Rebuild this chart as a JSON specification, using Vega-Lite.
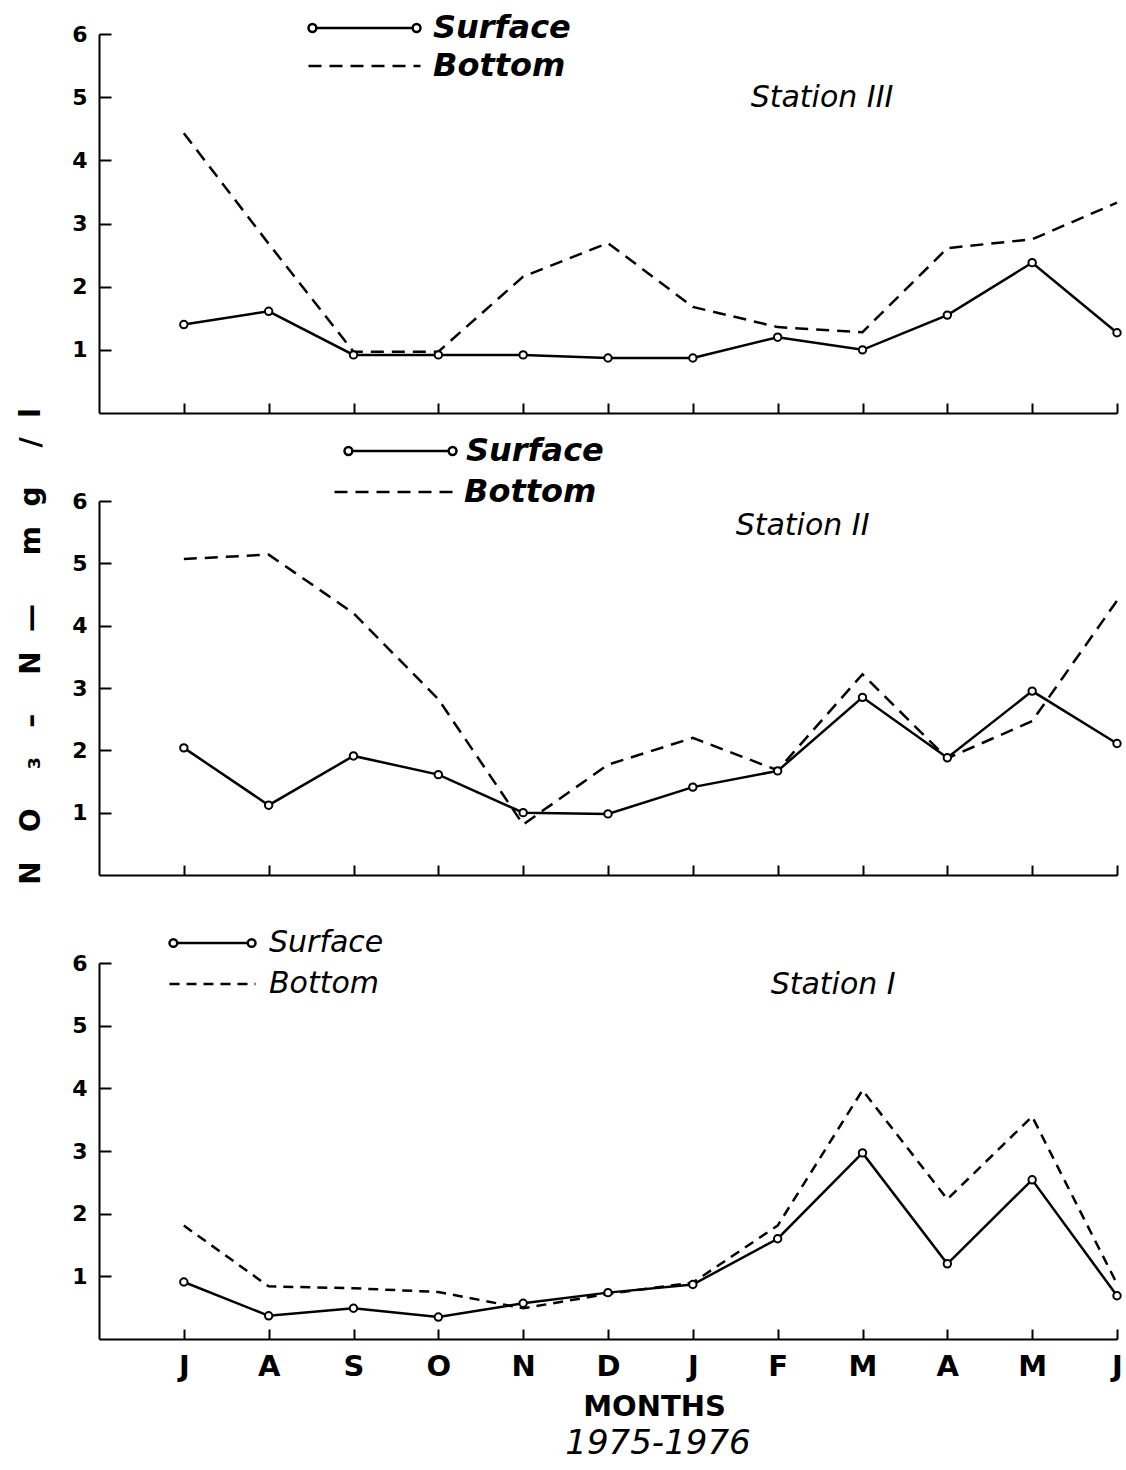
{
  "$schema": "https://vega.github.io/schema/vega-lite/v6.json",
  "background": "white",
  "padding": {"left": 16, "top": 13, "right": 0, "bottom": 0},
  "bounds": "flush",
  "spacing": 88,
  "datasets": {
    "nitrate": [
      {"station": "Station III", "depth": "Surface", "month": "Jul 1975", "no3": 1.40},
      {"station": "Station III", "depth": "Surface", "month": "Aug 1975", "no3": 1.61},
      {"station": "Station III", "depth": "Surface", "month": "Sep 1975", "no3": 0.92},
      {"station": "Station III", "depth": "Surface", "month": "Oct 1975", "no3": 0.92},
      {"station": "Station III", "depth": "Surface", "month": "Nov 1975", "no3": 0.92},
      {"station": "Station III", "depth": "Surface", "month": "Dec 1975", "no3": 0.87},
      {"station": "Station III", "depth": "Surface", "month": "Jan 1976", "no3": 0.87},
      {"station": "Station III", "depth": "Surface", "month": "Feb 1976", "no3": 1.20},
      {"station": "Station III", "depth": "Surface", "month": "Mar 1976", "no3": 1.00},
      {"station": "Station III", "depth": "Surface", "month": "Apr 1976", "no3": 1.55},
      {"station": "Station III", "depth": "Surface", "month": "May 1976", "no3": 2.38},
      {"station": "Station III", "depth": "Surface", "month": "Jun 1976", "no3": 1.27},
      {"station": "Station III", "depth": "Bottom", "month": "Jul 1975", "no3": 4.43},
      {"station": "Station III", "depth": "Bottom", "month": "Aug 1975", "no3": 2.68},
      {"station": "Station III", "depth": "Bottom", "month": "Sep 1975", "no3": 0.97},
      {"station": "Station III", "depth": "Bottom", "month": "Oct 1975", "no3": 0.97},
      {"station": "Station III", "depth": "Bottom", "month": "Nov 1975", "no3": 2.16},
      {"station": "Station III", "depth": "Bottom", "month": "Dec 1975", "no3": 2.69},
      {"station": "Station III", "depth": "Bottom", "month": "Jan 1976", "no3": 1.68},
      {"station": "Station III", "depth": "Bottom", "month": "Feb 1976", "no3": 1.36},
      {"station": "Station III", "depth": "Bottom", "month": "Mar 1976", "no3": 1.28},
      {"station": "Station III", "depth": "Bottom", "month": "Apr 1976", "no3": 2.61},
      {"station": "Station III", "depth": "Bottom", "month": "May 1976", "no3": 2.75},
      {"station": "Station III", "depth": "Bottom", "month": "Jun 1976", "no3": 3.33},
      {"station": "Station II", "depth": "Surface", "month": "Jul 1975", "no3": 2.04},
      {"station": "Station II", "depth": "Surface", "month": "Aug 1975", "no3": 1.12},
      {"station": "Station II", "depth": "Surface", "month": "Sep 1975", "no3": 1.91},
      {"station": "Station II", "depth": "Surface", "month": "Oct 1975", "no3": 1.61},
      {"station": "Station II", "depth": "Surface", "month": "Nov 1975", "no3": 1.00},
      {"station": "Station II", "depth": "Surface", "month": "Dec 1975", "no3": 0.98},
      {"station": "Station II", "depth": "Surface", "month": "Jan 1976", "no3": 1.41},
      {"station": "Station II", "depth": "Surface", "month": "Feb 1976", "no3": 1.67},
      {"station": "Station II", "depth": "Surface", "month": "Mar 1976", "no3": 2.85},
      {"station": "Station II", "depth": "Surface", "month": "Apr 1976", "no3": 1.88},
      {"station": "Station II", "depth": "Surface", "month": "May 1976", "no3": 2.95},
      {"station": "Station II", "depth": "Surface", "month": "Jun 1976", "no3": 2.11},
      {"station": "Station II", "depth": "Bottom", "month": "Jul 1975", "no3": 5.07},
      {"station": "Station II", "depth": "Bottom", "month": "Aug 1975", "no3": 5.14},
      {"station": "Station II", "depth": "Bottom", "month": "Sep 1975", "no3": 4.20},
      {"station": "Station II", "depth": "Bottom", "month": "Oct 1975", "no3": 2.82},
      {"station": "Station II", "depth": "Bottom", "month": "Nov 1975", "no3": 0.81},
      {"station": "Station II", "depth": "Bottom", "month": "Dec 1975", "no3": 1.77},
      {"station": "Station II", "depth": "Bottom", "month": "Jan 1976", "no3": 2.20},
      {"station": "Station II", "depth": "Bottom", "month": "Feb 1976", "no3": 1.68},
      {"station": "Station II", "depth": "Bottom", "month": "Mar 1976", "no3": 3.22},
      {"station": "Station II", "depth": "Bottom", "month": "Apr 1976", "no3": 1.87},
      {"station": "Station II", "depth": "Bottom", "month": "May 1976", "no3": 2.47},
      {"station": "Station II", "depth": "Bottom", "month": "Jun 1976", "no3": 4.40},
      {"station": "Station I", "depth": "Surface", "month": "Jul 1975", "no3": 0.91},
      {"station": "Station I", "depth": "Surface", "month": "Aug 1975", "no3": 0.37},
      {"station": "Station I", "depth": "Surface", "month": "Sep 1975", "no3": 0.49},
      {"station": "Station I", "depth": "Surface", "month": "Oct 1975", "no3": 0.35},
      {"station": "Station I", "depth": "Surface", "month": "Nov 1975", "no3": 0.57},
      {"station": "Station I", "depth": "Surface", "month": "Dec 1975", "no3": 0.74},
      {"station": "Station I", "depth": "Surface", "month": "Jan 1976", "no3": 0.87},
      {"station": "Station I", "depth": "Surface", "month": "Feb 1976", "no3": 1.60},
      {"station": "Station I", "depth": "Surface", "month": "Mar 1976", "no3": 2.97},
      {"station": "Station I", "depth": "Surface", "month": "Apr 1976", "no3": 1.20},
      {"station": "Station I", "depth": "Surface", "month": "May 1976", "no3": 2.54},
      {"station": "Station I", "depth": "Surface", "month": "Jun 1976", "no3": 0.69},
      {"station": "Station I", "depth": "Bottom", "month": "Jul 1975", "no3": 1.81},
      {"station": "Station I", "depth": "Bottom", "month": "Aug 1975", "no3": 0.84},
      {"station": "Station I", "depth": "Bottom", "month": "Sep 1975", "no3": 0.81},
      {"station": "Station I", "depth": "Bottom", "month": "Oct 1975", "no3": 0.75},
      {"station": "Station I", "depth": "Bottom", "month": "Nov 1975", "no3": 0.49},
      {"station": "Station I", "depth": "Bottom", "month": "Dec 1975", "no3": 0.72},
      {"station": "Station I", "depth": "Bottom", "month": "Jan 1976", "no3": 0.90},
      {"station": "Station I", "depth": "Bottom", "month": "Feb 1976", "no3": 1.81},
      {"station": "Station I", "depth": "Bottom", "month": "Mar 1976", "no3": 3.97},
      {"station": "Station I", "depth": "Bottom", "month": "Apr 1976", "no3": 2.23},
      {"station": "Station I", "depth": "Bottom", "month": "May 1976", "no3": 3.55},
      {"station": "Station I", "depth": "Bottom", "month": "Jun 1976", "no3": 0.88}
    ]
  },
  "config": {
    "view": {"stroke": null},
    "axis": {
      "grid": false,
      "domainColor": "black",
      "domainWidth": 2,
      "tickColor": "black",
      "tickWidth": 2,
      "labelColor": "black",
      "titleColor": "black",
      "labelFont": "DejaVu Sans",
      "labelFontWeight": "bold",
      "labelOverlap": false,
      "labelBound": false
    },
    "legend": {"padding": 0, "titlePadding": 0, "symbolStrokeColor": "black", "labelColor": "black", "labelFont": "DejaVu Sans", "labelFontStyle": "italic", "labelLimit": 400, "clipHeight": 30, "direction": "vertical", "orient": "none"},
    "line": {"color": "black", "strokeWidth": 2.5}
  },
  "resolve": {
    "scale": {"strokeDash": "independent", "strokeWidth": "independent"},
    "legend": {"strokeDash": "independent", "strokeWidth": "independent"}
  },
  "vconcat": [
    {
      "width": 1018,
      "height": 379,
      "data": {"name": "nitrate"},
      "transform": [{"filter": "datum.station === 'Station III'"}],
      "layer": [
        {
          "transform": [{"filter": "datum.depth === 'Surface'"}],
          "mark": {"type": "line", "color": "black"},
          "encoding": {
            "x": {"field": "month", "type": "ordinal",
              "sort": ["Jun 1975","Jul 1975","Aug 1975","Sep 1975","Oct 1975","Nov 1975","Dec 1975","Jan 1976","Feb 1976","Mar 1976","Apr 1976","May 1976","Jun 1976"],
              "scale": {"type": "point", "padding": 0, "domain": ["Jun 1975","Jul 1975","Aug 1975","Sep 1975","Oct 1975","Nov 1975","Dec 1975","Jan 1976","Feb 1976","Mar 1976","Apr 1976","May 1976","Jun 1976"]},
              "axis": {"values": ["Jul 1975","Aug 1975","Sep 1975","Oct 1975","Nov 1975","Dec 1975","Jan 1976","Feb 1976","Mar 1976","Apr 1976","May 1976","Jun 1976"], "labels": false, "title": null, "tickSize": -10}},
            "y": {"field": "no3", "type": "quantitative", "scale": {"domain": [0, 6], "nice": false},
              "axis": {"values": [1,2,3,4,5,6], "format": "d", "title": null, "tickSize": -12, "labelPadding": 24, "labelFontSize": 22}},
            "strokeWidth": {"field": "depth", "type": "ordinal",
              "scale": {"domain": ["Surface"], "range": [2.5, 2.5]},
              "legend": {"title": null, "legendX": 208, "legendY": -21,
                "symbolType": "M-1,0A0.07,0.07,0,1,1,-0.86,0A0.07,0.07,0,1,1,-1,0M-0.86,0L0.86,0M0.86,0A0.07,0.07,0,1,1,1,0A0.07,0.07,0,1,1,0.86,0",
                "symbolSize": 12544, "labelFontSize": 32, "labelFontWeight": "bold", "labelOffset": 11}}
          }
        },
        {
          "transform": [{"filter": "datum.depth === 'Bottom'"}],
          "mark": {"type": "line", "color": "black", "strokeWidth": 2.5},
          "encoding": {
            "x": {"field": "month", "type": "ordinal", "sort": ["Jun 1975","Jul 1975","Aug 1975","Sep 1975","Oct 1975","Nov 1975","Dec 1975","Jan 1976","Feb 1976","Mar 1976","Apr 1976","May 1976","Jun 1976"]},
            "y": {"field": "no3", "type": "quantitative"},
            "strokeDash": {"field": "depth", "type": "nominal",
              "scale": {"domain": ["Bottom"], "range": [[13, 8]]},
              "legend": {"title": null, "legendX": 208, "legendY": 17,
                "symbolType": "stroke", "symbolSize": 12544, "symbolStrokeWidth": 2.5,
                "labelFontSize": 32, "labelFontWeight": "bold", "labelOffset": 11}}
          }
        },
        {
          "transform": [{"filter": "datum.depth === 'Surface'"}],
          "mark": {"type": "point", "shape": "circle", "filled": true, "fill": "white", "stroke": "black", "strokeWidth": 2, "size": 55, "opacity": 1},
          "encoding": {
            "x": {"field": "month", "type": "ordinal"},
            "y": {"field": "no3", "type": "quantitative"}
          }
        },
        {
          "data": {"values": [{"label": "Station III"}]},
          "mark": {"type": "text", "font": "DejaVu Sans", "fontStyle": "italic", "fontSize": 30, "align": "left", "baseline": "middle", "color": "black", "dx": -27},
          "encoding": {
            "x": {"datum": "Feb 1976", "type": "ordinal"},
            "y": {"datum": 4.99, "type": "quantitative"},
            "text": {"field": "label"}
          }
        }
      ]
    },
    {
      "width": 1018,
      "height": 374,
      "data": {"name": "nitrate"},
      "transform": [{"filter": "datum.station === 'Station II'"}],
      "layer": [
        {
          "transform": [{"filter": "datum.depth === 'Surface'"}],
          "mark": {"type": "line", "color": "black"},
          "encoding": {
            "x": {"field": "month", "type": "ordinal",
              "sort": ["Jun 1975","Jul 1975","Aug 1975","Sep 1975","Oct 1975","Nov 1975","Dec 1975","Jan 1976","Feb 1976","Mar 1976","Apr 1976","May 1976","Jun 1976"],
              "scale": {"type": "point", "padding": 0, "domain": ["Jun 1975","Jul 1975","Aug 1975","Sep 1975","Oct 1975","Nov 1975","Dec 1975","Jan 1976","Feb 1976","Mar 1976","Apr 1976","May 1976","Jun 1976"]},
              "axis": {"values": ["Jul 1975","Aug 1975","Sep 1975","Oct 1975","Nov 1975","Dec 1975","Jan 1976","Feb 1976","Mar 1976","Apr 1976","May 1976","Jun 1976"], "labels": false, "title": null, "tickSize": -10}},
            "y": {"field": "no3", "type": "quantitative", "scale": {"domain": [0, 6], "nice": false},
              "axis": {"values": [1,2,3,4,5,6], "format": "d", "tickSize": -12, "labelPadding": 24, "labelFontSize": 22,
                "title": "N\u00a0\u00a0\u00a0O\u00a0\u00a0\u00a0\u00a0₃\u00a0\u00a0\u00a0–\u00a0\u00a0\u00a0\u00a0N\u00a0\u00a0—\u00a0\u00a0\u00a0\u00a0\u00a0m\u00a0\u00a0g\u00a0\u00a0\u00a0\u00a0/\u00a0\u00a0l",
                "titleFont": "DejaVu Sans", "titleFontWeight": "bold", "titleFontSize": 28,
                "titleAngle": 270, "titleAlign": "center", "titleBaseline": "alphabetic", "titleX": -60, "titleY": 145}},
            "strokeWidth": {"field": "depth", "type": "ordinal",
              "scale": {"domain": ["Surface"], "range": [2.5, 2.5]},
              "legend": {"title": null, "legendX": 244, "legendY": -65,
                "symbolType": "M-1,0A0.07,0.07,0,1,1,-0.86,0A0.07,0.07,0,1,1,-1,0M-0.86,0L0.86,0M0.86,0A0.07,0.07,0,1,1,1,0A0.07,0.07,0,1,1,0.86,0",
                "symbolSize": 12544, "labelFontSize": 32, "labelFontWeight": "bold", "labelOffset": 8}}
          }
        },
        {
          "transform": [{"filter": "datum.depth === 'Bottom'"}],
          "mark": {"type": "line", "color": "black", "strokeWidth": 2.5},
          "encoding": {
            "x": {"field": "month", "type": "ordinal", "sort": ["Jun 1975","Jul 1975","Aug 1975","Sep 1975","Oct 1975","Nov 1975","Dec 1975","Jan 1976","Feb 1976","Mar 1976","Apr 1976","May 1976","Jun 1976"]},
            "y": {"field": "no3", "type": "quantitative"},
            "strokeDash": {"field": "depth", "type": "nominal",
              "scale": {"domain": ["Bottom"], "range": [[13, 8]]},
              "legend": {"title": null, "legendX": 234, "legendY": -24,
                "symbolType": "stroke", "symbolSize": 14400, "symbolStrokeWidth": 2.5,
                "labelFontSize": 32, "labelFontWeight": "bold", "labelOffset": 8}}
          }
        },
        {
          "transform": [{"filter": "datum.depth === 'Surface'"}],
          "mark": {"type": "point", "shape": "circle", "filled": true, "fill": "white", "stroke": "black", "strokeWidth": 2, "size": 55, "opacity": 1},
          "encoding": {
            "x": {"field": "month", "type": "ordinal"},
            "y": {"field": "no3", "type": "quantitative"}
          }
        },
        {
          "data": {"values": [{"label": "Station II"}]},
          "mark": {"type": "text", "font": "DejaVu Sans", "fontStyle": "italic", "fontSize": 30, "align": "left", "baseline": "middle", "color": "black", "dx": -42},
          "encoding": {
            "x": {"datum": "Feb 1976", "type": "ordinal"},
            "y": {"datum": 5.6, "type": "quantitative"},
            "text": {"field": "label"}
          }
        }
      ]
    },
    {
      "width": 1018,
      "height": 376,
      "data": {"name": "nitrate"},
      "transform": [{"filter": "datum.station === 'Station I'"}],
      "title": {"text": "1975-1976", "orient": "bottom", "anchor": "middle", "frame": "group", "dx": 50, "offset": 6,
        "font": "DejaVu Sans", "fontStyle": "italic", "fontWeight": "normal", "fontSize": 34, "color": "black"},
      "layer": [
        {
          "transform": [{"filter": "datum.depth === 'Surface'"}],
          "mark": {"type": "line", "color": "black"},
          "encoding": {
            "x": {"field": "month", "type": "ordinal",
              "sort": ["Jun 1975","Jul 1975","Aug 1975","Sep 1975","Oct 1975","Nov 1975","Dec 1975","Jan 1976","Feb 1976","Mar 1976","Apr 1976","May 1976","Jun 1976"],
              "scale": {"type": "point", "padding": 0, "domain": ["Jun 1975","Jul 1975","Aug 1975","Sep 1975","Oct 1975","Nov 1975","Dec 1975","Jan 1976","Feb 1976","Mar 1976","Apr 1976","May 1976","Jun 1976"]},
              "axis": {"values": ["Jul 1975","Aug 1975","Sep 1975","Oct 1975","Nov 1975","Dec 1975","Jan 1976","Feb 1976","Mar 1976","Apr 1976","May 1976","Jun 1976"],
                "labelExpr": "substring(datum.value, 0, 1)", "labelAngle": 0, "labelFontSize": 29, "labelPadding": 23, "labelBaseline": "top",
                "tickSize": -10, "title": "MONTHS", "titleFont": "DejaVu Sans", "titleFontWeight": "bold", "titleFontSize": 29,
                "titleX": 555, "titleAlign": "center", "titlePadding": 11}},
            "y": {"field": "no3", "type": "quantitative", "scale": {"domain": [0, 6], "nice": false},
              "axis": {"values": [1,2,3,4,5,6], "format": "d", "title": null, "tickSize": -12, "labelPadding": 24, "labelFontSize": 22}},
            "strokeWidth": {"field": "depth", "type": "ordinal",
              "scale": {"domain": ["Surface"], "range": [2.5, 2.5]},
              "legend": {"title": null, "legendX": 69, "legendY": -35,
                "symbolType": "M-1,0A0.09,0.09,0,1,1,-0.82,0A0.09,0.09,0,1,1,-1,0M-0.82,0L0.82,0M0.82,0A0.09,0.09,0,1,1,1,0A0.09,0.09,0,1,1,0.82,0",
                "symbolSize": 7396, "labelFontSize": 30, "labelFontWeight": "normal", "labelOffset": 12}}
          }
        },
        {
          "transform": [{"filter": "datum.depth === 'Bottom'"}],
          "mark": {"type": "line", "color": "black", "strokeWidth": 2.5},
          "encoding": {
            "x": {"field": "month", "type": "ordinal", "sort": ["Jun 1975","Jul 1975","Aug 1975","Sep 1975","Oct 1975","Nov 1975","Dec 1975","Jan 1976","Feb 1976","Mar 1976","Apr 1976","May 1976","Jun 1976"]},
            "y": {"field": "no3", "type": "quantitative"},
            "strokeDash": {"field": "depth", "type": "nominal",
              "scale": {"domain": ["Bottom"], "range": [[10, 7]]},
              "legend": {"title": null, "legendX": 69, "legendY": 6,
                "symbolType": "stroke", "symbolSize": 7396, "symbolStrokeWidth": 2.5,
                "labelFontSize": 30, "labelFontWeight": "normal", "labelOffset": 12}}
          }
        },
        {
          "transform": [{"filter": "datum.depth === 'Surface'"}],
          "mark": {"type": "point", "shape": "circle", "filled": true, "fill": "white", "stroke": "black", "strokeWidth": 2, "size": 55, "opacity": 1},
          "encoding": {
            "x": {"field": "month", "type": "ordinal"},
            "y": {"field": "no3", "type": "quantitative"}
          }
        },
        {
          "data": {"values": [{"label": "Station I"}]},
          "mark": {"type": "text", "font": "DejaVu Sans", "fontStyle": "italic", "fontSize": 30, "align": "left", "baseline": "middle", "color": "black", "dx": -7},
          "encoding": {
            "x": {"datum": "Feb 1976", "type": "ordinal"},
            "y": {"datum": 5.65, "type": "quantitative"},
            "text": {"field": "label"}
          }
        }
      ]
    }
  ]
}
